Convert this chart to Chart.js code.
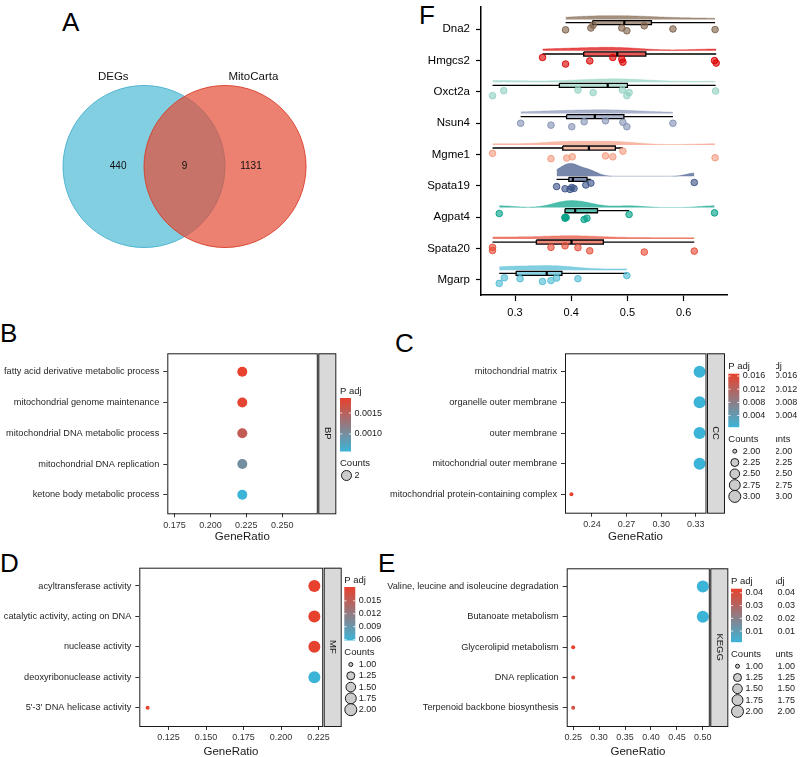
<!DOCTYPE html>
<html lang="en">
<head>
<meta charset="UTF-8">
<title>Mitochondrial DEGs</title>
<script src="https://cdn.jsdelivr.net/npm/chart.js"></script>
<style>
  body { margin: 0; width: 800px; height: 757px; position: relative; overflow: hidden; background: #fff;
         font-family: "Liberation Sans", Arial, sans-serif; }
  canvas { position: absolute; }
  .tag { position: absolute; font-size: 26px; line-height: 1; color: #000; }
</style>
</head>
<body>
<div class="tag" style="left:62px;top:9px">A</div>
<div class="tag" style="left:0;top:320px">B</div>
<div class="tag" style="left:395px;top:330px">C</div>
<div class="tag" style="left:0;top:550px">D</div>
<div class="tag" style="left:378px;top:550px">E</div>
<div class="tag" style="left:419px;top:2px">F</div>

<canvas id="venn" style="left:0;top:0" width="330" height="290"></canvas>
<canvas id="rain" style="left:380px;top:0" width="420" height="330"></canvas>
<canvas id="bp" style="left:0;top:310px" width="400" height="235"></canvas>
<canvas id="cc" style="left:380px;top:310px" width="420" height="235"></canvas>
<canvas id="mf" style="left:0;top:540px" width="400" height="222"></canvas>
<canvas id="kegg" style="left:380px;top:540px" width="420" height="222"></canvas>

<script>
// ---- A: venn ----
const vennSets = ['DEGs', 'MitoCarta'];
const vennCounts = [440, 9, 1131]; // DEGs only, shared, MitoCarta only

// ---- F: expression per gene ----
const genes = ['Dna2', 'Hmgcs2', 'Oxct2a', 'Nsun4', 'Mgme1', 'Spata19', 'Agpat4', 'Spata20', 'Mgarp'];
const geneColors = ['#7E6148', '#DC0000', '#91D1C2', '#8491B4', '#F39B7F', '#3C5488', '#00A087', '#E64B35', '#4DBBD5'];
const exprDna2    = [0.390, 0.435, 0.439, 0.490, 0.499, 0.530, 0.581, 0.656];
const exprHmgcs2  = [0.349, 0.390, 0.433, 0.474, 0.490, 0.492, 0.655, 0.658];
const exprOxct2a  = [0.260, 0.280, 0.412, 0.439, 0.491, 0.499, 0.503, 0.657];
const exprNsun4   = [0.310, 0.364, 0.401, 0.423, 0.461, 0.492, 0.499, 0.581];
const exprMgme1   = [0.260, 0.364, 0.392, 0.402, 0.461, 0.474, 0.492, 0.656];
const exprSpata19 = [0.374, 0.389, 0.398, 0.401, 0.405, 0.426, 0.435, 0.619];
const exprAgpat4  = [0.272, 0.389, 0.389, 0.391, 0.423, 0.428, 0.503, 0.655];
const exprSpata20 = [0.260, 0.260, 0.364, 0.389, 0.412, 0.433, 0.530, 0.619];
const exprMgarp   = [0.272, 0.281, 0.309, 0.349, 0.364, 0.374, 0.412, 0.499];
// vertical jitter of the dots (category units)
const jitDna2    = [0.02, -0.04, -0.13, -0.04, 0.05, -0.11, -0.01, 0.01];
const jitHmgcs2  = [-0.10, 0.11, 0.01, -0.10, -0.04, 0.05, 0.00, 0.08];
const jitOxct2a  = [0.12, -0.04, -0.06, 0.02, -0.06, 0.12, 0.02, -0.03];
const jitNsun4   = [0.00, 0.06, 0.11, -0.05, -0.08, -0.03, 0.11, 0.00];
const jitMgme1   = [-0.04, 0.13, 0.11, 0.07, 0.04, 0.07, -0.11, 0.10];
const jitSpata19 = [0.02, 0.09, 0.11, 0.05, 0.08, -0.03, -0.09, -0.11];
const jitAgpat4  = [-0.12, 0.00, 0.03, 0.01, 0.07, 0.03, -0.09, -0.14];
const jitSpata20 = [-0.04, 0.06, -0.04, -0.09, -0.03, 0.07, 0.11, 0.08];
const jitMgarp   = [0.11, -0.07, -0.04, 0.05, 0.02, -0.06, -0.04, -0.14];
const exprTicks = [0.3, 0.4, 0.5, 0.6];

const geneValues = [exprDna2, exprHmgcs2, exprOxct2a, exprNsun4, exprMgme1, exprSpata19, exprAgpat4, exprSpata20, exprMgarp];
const geneJitter = [jitDna2, jitHmgcs2, jitOxct2a, jitNsun4, jitMgme1, jitSpata19, jitAgpat4, jitSpata20, jitMgarp];

// ---- B-E: enrichment ----
const bpTerms = ['fatty acid derivative metabolic process', 'mitochondrial genome maintenance', 'mitochondrial DNA metabolic process', 'mitochondrial DNA replication', 'ketone body metabolic process'];
const bpRatio = [0.2222, 0.2222, 0.2222, 0.2222, 0.2222];
const bpCount = [2, 2, 2, 2, 2];
const bpPadj = [0.00186, 0.00182, 0.00157, 0.00100, 0.00058];
const bpRatioTicks = [0.175, 0.200, 0.225, 0.250];
const bpPadjTicks = [0.0010, 0.0015];
const bpCountTicks = [2];

const ccTerms = ['mitochondrial matrix', 'organelle outer membrane', 'outer membrane', 'mitochondrial outer membrane', 'mitochondrial protein-containing complex'];
const ccRatio = [0.3333, 0.3333, 0.3333, 0.3333, 0.2222];
const ccCount = [3, 3, 3, 3, 2];
const ccPadj = [0.00046, 0.00047, 0.00048, 0.00048, 0.0167];
const ccRatioTicks = [0.24, 0.27, 0.30, 0.33];
const ccPadjTicks = [0.004, 0.008, 0.012, 0.016];
const ccCountTicks = [2.00, 2.25, 2.50, 2.75, 3.00];

const mfTerms = ['acyltransferase activity', 'catalytic activity, acting on DNA', 'nuclease activity', 'deoxyribonuclease activity', "5'-3' DNA helicase activity"];
const mfRatio = [0.2222, 0.2222, 0.2222, 0.2222, 0.1111];
const mfCount = [2, 2, 2, 2, 1];
const mfPadj = [0.0182, 0.0181, 0.0180, 0.0058, 0.0182];
const mfRatioTicks = [0.125, 0.150, 0.175, 0.200, 0.225];
const mfPadjTicks = [0.006, 0.009, 0.012, 0.015];
const mfCountTicks = [1.00, 1.25, 1.50, 1.75, 2.00];

const keggTerms = ['Valine, leucine and isoleucine degradation', 'Butanoate metabolism', 'Glycerolipid metabolism', 'DNA replication', 'Terpenoid backbone biosynthesis'];
const keggRatio = [0.50, 0.50, 0.25, 0.25, 0.25];
const keggCount = [2, 2, 1, 1, 1];
const keggPadj = [0.0013, 0.0014, 0.0432, 0.0395, 0.0378];
const keggRatioTicks = [0.25, 0.30, 0.35, 0.40, 0.45, 0.50];
const keggPadjTicks = [0.01, 0.02, 0.03, 0.04];
const keggCountTicks = [1.00, 1.25, 1.50, 1.75, 2.00];

const FONT = '"Liberation Sans", Arial, sans-serif';
Chart.defaults.font.family = FONT;
Chart.defaults.animation = false;
Chart.defaults.events = [];
Chart.defaults.layout.autoPadding = false;
Chart.defaults.plugins.legend.display = false;
Chart.defaults.plugins.tooltip.enabled = false;

function rgba(hex, a) {
  const n = parseInt(hex.slice(1), 16);
  return `rgba(${n >> 16},${(n >> 8) & 255},${n & 255},${a})`;
}

// ================= A =================
const vennLabels = {
  id: 'vennLabels',
  afterDatasetsDraw(chart) {
    const {ctx, scales: {x, y}} = chart;
    ctx.save();
    ctx.fillStyle = '#111';
    ctx.textAlign = 'center';
    ctx.textBaseline = 'middle';
    ctx.font = '11.5px ' + FONT;
    ctx.fillText(vennSets[0], x.getPixelForValue(-0.38), y.getPixelForValue(1.105));
    ctx.fillText(vennSets[1], x.getPixelForValue(1.35), y.getPixelForValue(1.105));
    ctx.font = '10px ' + FONT;
    [-0.32, 0.5, 1.32].forEach((px, k) => ctx.fillText(String(vennCounts[k]), x.getPixelForValue(px), y.getPixelForValue(0)));
    ctx.restore();
  }
};

new Chart(document.getElementById('venn'), {
  type: 'scatter',
  data: {
    datasets: [{
      data: [{x: 0, y: 0}, {x: 1, y: 0}],
      pointRadius: 81,
      pointBackgroundColor: ['rgba(77,187,213,0.7)', 'rgba(230,75,53,0.7)'],
      pointBorderColor: ['rgba(70,175,205,0.9)', 'rgba(215,60,40,0.9)'],
      pointBorderWidth: 1,
      clip: false
    }]
  },
  options: {
    responsive: false,
    layout: {padding: 0, autoPadding: false},
    scales: {
      x: {type: 'linear', display: false, min: -1.778, max: 2.296},
      y: {type: 'linear', display: false, min: -1.525, max: 2.056}
    }
  },
  plugins: [vennLabels]
});

// ================= F =================
function quantile(s, p) {
  const h = (s.length - 1) * p, lo = Math.floor(h);
  const next = lo + 1 < s.length ? s[lo + 1] : s[lo];
  return s[lo] + (h - lo) * (next - s[lo]);
}
function boxStats(v) {
  const s = [...v].sort((a, b) => a - b);
  const q1 = quantile(s, 0.25), med = quantile(s, 0.5), q3 = quantile(s, 0.75);
  const iqr = q3 - q1;
  const lo = s.find(x => x >= q1 - 1.5 * iqr);
  const hi = [...s].reverse().find(x => x <= q3 + 1.5 * iqr);
  return {q1, med, q3, lo, hi};
}
// gaussian kde, bw.nrd0, trimmed to data range
function density(v) {
  const s = [...v].sort((a, b) => a - b), n = s.length;
  const mean = s.reduce((a, b) => a + b, 0) / n;
  const sd = Math.sqrt(s.reduce((a, b) => a + (b - mean) ** 2, 0) / (n - 1));
  const iqr = quantile(s, 0.75) - quantile(s, 0.25);
  const bw = 0.9 * Math.min(sd, iqr / 1.34) * Math.pow(n, -0.2);
  const out = [];
  for (let k = 0; k <= 150; k++) {
    const x = s[0] + (s[n - 1] - s[0]) * k / 150;
    let d = 0;
    s.forEach(xi => { const z = (x - xi) / bw; d += Math.exp(-0.5 * z * z); });
    out.push({x, d: d / (n * bw * Math.sqrt(2 * Math.PI))});
  }
  return out;
}

const VIOLIN_BASE = -0.31, VIOLIN_MAX = 0.41, BOX_Y = -0.21, BOX_H = 0.065;
const dens = geneValues.map(density);
const dMax = Math.max(...dens.map(d => Math.max(...d.map(p => p.d))));
const rainSets = [];
genes.forEach((g, i) => {
  const col = geneColors[i];
  const st = boxStats(geneValues[i]);
  const top = i + BOX_Y - BOX_H, bot = i + BOX_Y + BOX_H, by = i + BOX_Y;
  rainSets.push({
    type: 'line', order: 4,
    data: dens[i].map(p => ({x: p.x, y: i + VIOLIN_BASE - p.d / dMax * VIOLIN_MAX})),
    fill: {value: i + VIOLIN_BASE}, backgroundColor: rgba(col, 0.7),
    borderColor: rgba(col, 0.7), borderWidth: 0.5, pointRadius: 0
  });
  rainSets.push({
    type: 'line', order: 3,
    data: [{x: st.q1, y: top}, {x: st.q3, y: top}],
    fill: {value: bot}, backgroundColor: rgba(col, 0.65), borderWidth: 0, pointRadius: 0
  });
  rainSets.push({
    type: 'line', order: 2,
    data: [{x: st.lo, y: by}, {x: st.q1, y: by}, {x: st.q1, y: null}, {x: st.q3, y: by}, {x: st.hi, y: by}],
    borderColor: '#000', borderWidth: 1.3, pointRadius: 0, spanGaps: false, fill: false
  });
  rainSets.push({
    type: 'line', order: 2,
    data: [{x: st.q1, y: top}, {x: st.q3, y: top}, {x: st.q3, y: bot}, {x: st.q1, y: bot}, {x: st.q1, y: top}],
    borderColor: '#000', borderWidth: 1.3, pointRadius: 0, fill: false
  });
  rainSets.push({
    type: 'line', order: 2,
    data: [{x: st.med, y: top}, {x: st.med, y: bot}],
    borderColor: '#000', borderWidth: 2.2, pointRadius: 0, fill: false
  });
  rainSets.push({
    type: 'scatter', order: 1,
    data: geneValues[i].map((x, k) => ({x, y: i + geneJitter[i][k]})),
    pointRadius: 3.3, backgroundColor: rgba(col, 0.62), borderColor: rgba(col, 0.9), borderWidth: 1
  });
});

new Chart(document.getElementById('rain'), {
  type: 'scatter',
  data: {datasets: rainSets},
  options: {
    responsive: false,
    layout: {padding: {left: 0, top: 7, right: 73, bottom: 10}},
    scales: {
      x: {
        type: 'linear', min: 0.2395, max: 0.6772,
        afterBuildTicks: s => { s.ticks = exprTicks.map(v => ({value: v})); },
        afterFit: s => { s.height = 25; s.paddingLeft = 0; s.paddingRight = 0; },
        ticks: {callback: v => v.toFixed(1), font: {size: 11}, color: '#000', padding: 5.5, maxRotation: 0, autoSkip: false},
        grid: {display: true, drawOnChartArea: false, drawTicks: true, tickLength: 6, tickColor: '#000', tickWidth: 1.2},
        border: {display: true, color: '#000', width: 1.5}
      },
      y: {
        type: 'linear', reverse: true, min: -0.71, max: 8.48,
        afterBuildTicks: s => { s.ticks = genes.map((_, i) => ({value: i})); },
        afterFit: s => { s.width = 101; s.paddingTop = 0; s.paddingBottom = 0; },
        ticks: {callback: v => genes[v], font: {size: 11.5}, color: '#000', padding: 6, autoSkip: false},
        grid: {display: true, drawOnChartArea: false, drawTicks: true, tickLength: 5, tickColor: '#000', tickWidth: 1.2},
        border: {display: true, color: '#000', width: 1.5}
      }
    }
  }
});

// ================= B-E =================
const LOW = [60, 180, 215], HIGH = [232, 65, 45];
function padjColor(t) {
  const c = LOW.map((l, k) => Math.round(l + (HIGH[k] - l) * t));
  return `rgb(${c[0]},${c[1]},${c[2]})`;
}

function drawLegend(ctx, lx, ly, cfg, pmin, pmax, radius) {
  ctx.save();
  ctx.fillStyle = '#1a1a1a';
  ctx.textAlign = 'left';
  ctx.textBaseline = 'middle';
  ctx.font = '9.5px ' + FONT;
  ctx.fillText('P adj', lx, ly);
  const bt = ly + 7, bh = 53.5, bw = 11;
  const g = ctx.createLinearGradient(0, bt, 0, bt + bh);
  g.addColorStop(0, padjColor(1));
  g.addColorStop(1, padjColor(0));
  ctx.fillStyle = g;
  ctx.fillRect(lx, bt, bw, bh);
  ctx.font = '9px ' + FONT;
  cfg.padjTicks.forEach(v => {
    const y = bt + (pmax - v) / (pmax - pmin) * bh;
    ctx.strokeStyle = '#fff';
    ctx.lineWidth = 0.8;
    ctx.beginPath();
    ctx.moveTo(lx, y); ctx.lineTo(lx + 2.2, y);
    ctx.moveTo(lx + bw - 2.2, y); ctx.lineTo(lx + bw, y);
    ctx.stroke();
    ctx.fillStyle = '#1a1a1a';
    ctx.fillText(v.toFixed(cfg.padjDigits), lx + 14.5, y);
  });
  const ct = bt + bh + 12;
  ctx.font = '9.5px ' + FONT;
  ctx.fillText('Counts', lx, ct);
  ctx.font = '9px ' + FONT;
  cfg.countTicks.forEach((c, k) => {
    const y = ct + 12 + k * 11.3;
    ctx.beginPath();
    ctx.arc(lx + 6.5, y, radius(c), 0, Math.PI * 2);
    ctx.fillStyle = '#cccccc';
    ctx.fill();
    ctx.strokeStyle = '#1a1a1a';
    ctx.lineWidth = 1;
    ctx.stroke();
    ctx.fillStyle = '#1a1a1a';
    ctx.fillText(c.toFixed(cfg.countDigits), lx + 14.5, y);
  });
  ctx.restore();
}

function dotPanel(cfg) {
  const cv = cfg.canvas, ar = cfg.area;
  const titleLH = 11.5 * 1.2;
  const scaleBottom = cfg.titleY + titleLH / 2;
  const pmin = Math.min(...cfg.padj), pmax = Math.max(...cfg.padj);
  const cmin = Math.min(...cfg.count), cmax = Math.max(...cfg.count);
  const radius = c => 2 + 4 * Math.sqrt(cmax > cmin ? (c - cmin) / (cmax - cmin) : 0.5625);
  const rmin = Math.min(...cfg.ratio), rmax = Math.max(...cfg.ratio);
  const pad = rmax > rmin ? 0.05 * (rmax - rmin) : 0.235 * rmin;

  const decor = {
    id: 'decor',
    afterDatasetsDraw(chart) {
      const {ctx, chartArea: a} = chart;
      ctx.save();
      ctx.strokeStyle = '#1a1a1a';
      ctx.lineWidth = 1;
      ctx.strokeRect(a.left + 0.5, a.top + 0.5, a.width - 0.5, a.height);
      const sx = a.right + 1, sw = 17;
      ctx.fillStyle = '#d9d9d9';
      ctx.fillRect(sx, a.top, sw, a.height);
      ctx.strokeRect(sx + 0.5, a.top + 0.5, sw, a.height);
      ctx.translate(sx + sw / 2 + 0.5, (a.top + a.bottom) / 2);
      ctx.rotate(Math.PI / 2);
      ctx.fillStyle = '#1a1a1a';
      ctx.font = '9.5px ' + FONT;
      ctx.textAlign = 'center';
      ctx.textBaseline = 'middle';
      ctx.fillText(cfg.strip, 0, 0);
      ctx.restore();
      const lx = cfg.legend.x - cv.x, ly = cfg.legend.y - cv.y;
      drawLegend(ctx, lx, ly, cfg, pmin, pmax, radius);
      if (cfg.ghost) {
        ctx.save();
        ctx.beginPath();
        ctx.rect(776 - cv.x, 0, 200, chart.height);
        ctx.clip();
        drawLegend(ctx, lx + 32, ly, cfg, pmin, pmax, radius);
        ctx.restore();
      }
    }
  };

  new Chart(document.getElementById(cfg.id), {
    type: 'scatter',
    data: {
      datasets: [{
        data: cfg.ratio.map((r, i) => ({x: r, y: i})),
        pointRadius: cfg.count.map(radius),
        pointBackgroundColor: cfg.padj.map(p => padjColor((p - pmin) / (pmax - pmin))),
        pointBorderWidth: 0
      }]
    },
    options: {
      responsive: false,
      layout: {padding: {left: 0, top: ar.t - cv.y, right: cv.x + cv.w - ar.r, bottom: cv.y + cv.h - scaleBottom}},
      scales: {
        x: {
          type: 'linear', min: rmin - pad, max: rmax + pad,
          afterBuildTicks: s => { s.ticks = cfg.ratioTicks.map(v => ({value: v})); },
          afterFit: s => { s.height = scaleBottom - ar.b; s.paddingLeft = 0; s.paddingRight = 0; },
          ticks: {callback: v => v.toFixed(cfg.ratioDigits), font: {size: 9}, color: '#333', padding: 2.6, maxRotation: 0, autoSkip: false},
          grid: {display: true, drawOnChartArea: false, drawTicks: true, tickLength: 4, tickColor: '#333', tickWidth: 1},
          border: {display: false},
          title: {display: true, text: 'GeneRatio', font: {size: 11.5}, color: '#1a1a1a', padding: 0}
        },
        y: {
          type: 'linear', reverse: true, min: -0.6, max: cfg.terms.length - 0.4,
          afterBuildTicks: s => { s.ticks = cfg.terms.map((_, i) => ({value: i})); },
          afterFit: s => { s.width = ar.l - cv.x; s.paddingTop = 0; s.paddingBottom = 0; },
          ticks: {callback: v => cfg.terms[v], font: {size: 9.2}, color: '#262626', padding: 4, autoSkip: false},
          grid: {display: true, drawOnChartArea: false, drawTicks: true, tickLength: 4, tickColor: '#333', tickWidth: 1},
          border: {display: false}
        }
      }
    },
    plugins: [decor]
  });
}

dotPanel({
  id: 'bp', strip: 'BP', canvas: {x: 0, y: 310, w: 400, h: 235}, area: {l: 167.3, r: 317.3, t: 353.3, b: 513.3}, titleY: 537,
  terms: bpTerms, ratio: bpRatio, count: bpCount, padj: bpPadj,
  ratioTicks: bpRatioTicks, ratioDigits: 3, padjTicks: bpPadjTicks, padjDigits: 4, countTicks: bpCountTicks, countDigits: 0,
  legend: {x: 340, y: 391}
});
dotPanel({
  id: 'cc', strip: 'CC', canvas: {x: 380, y: 310, w: 420, h: 235}, area: {l: 565, r: 706, t: 353.3, b: 512.7}, titleY: 537,
  terms: ccTerms, ratio: ccRatio, count: ccCount, padj: ccPadj,
  ratioTicks: ccRatioTicks, ratioDigits: 2, padjTicks: ccPadjTicks, padjDigits: 3, countTicks: ccCountTicks, countDigits: 2,
  legend: {x: 728.3, y: 366.7}, ghost: true
});
dotPanel({
  id: 'mf', strip: 'MF', canvas: {x: 0, y: 540, w: 400, h: 222}, area: {l: 139.3, r: 322.7, t: 567.7, b: 726}, titleY: 751.7,
  terms: mfTerms, ratio: mfRatio, count: mfCount, padj: mfPadj,
  ratioTicks: mfRatioTicks, ratioDigits: 3, padjTicks: mfPadjTicks, padjDigits: 3, countTicks: mfCountTicks, countDigits: 2,
  legend: {x: 344.3, y: 580}
});
dotPanel({
  id: 'kegg', strip: 'KEGG', canvas: {x: 380, y: 540, w: 420, h: 222}, area: {l: 566.7, r: 709.3, t: 568.3, b: 726}, titleY: 751.7,
  terms: keggTerms, ratio: keggRatio, count: keggCount, padj: keggPadj,
  ratioTicks: keggRatioTicks, ratioDigits: 2, padjTicks: keggPadjTicks, padjDigits: 2, countTicks: keggCountTicks, countDigits: 2,
  legend: {x: 731, y: 581.7}, ghost: true
});
</script>
</body>
</html>
